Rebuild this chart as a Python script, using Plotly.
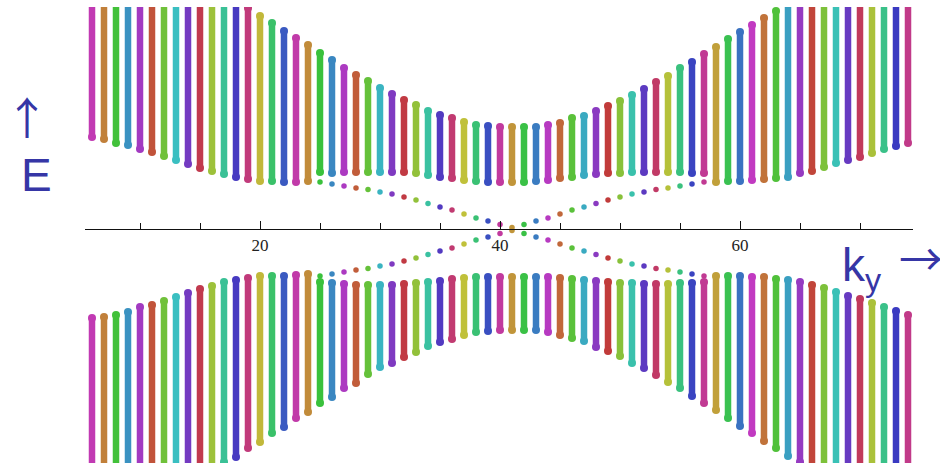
import colorsys
import plotly.graph_objects as go

# ---- band-structure data: one column of eigenvalues per ky index ----
ky = list(range(6, 75))

# bulk conduction band: lowest and highest eigenvalue at each ky
upper_min = [0.92, 0.90, 0.86, 0.84, 0.80, 0.77, 0.73, 0.69, 0.65, 0.61,
             0.58, 0.55, 0.52, 0.50, 0.48, 0.48, 0.47, 0.47, 0.48, 0.57,
             0.56, 0.57, 0.57, 0.57, 0.57, 0.57, 0.57, 0.56, 0.54, 0.52,
             0.51, 0.49, 0.48, 0.47, 0.47, 0.47, 0.47, 0.48, 0.49, 0.51,
             0.52, 0.54, 0.55, 0.56, 0.56, 0.57, 0.57, 0.57, 0.57, 0.57,
             0.56, 0.56, 0.47, 0.48, 0.48, 0.49, 0.50, 0.51, 0.52, 0.56,
             0.58, 0.62, 0.66, 0.69, 0.72, 0.76, 0.80, 0.83, 0.86]
upper_max = [2.5] * 12 + [
             2.28, 2.21, 2.13, 2.06, 1.98, 1.91, 1.84, 1.76, 1.69, 1.61,
             1.54, 1.48, 1.41, 1.35, 1.29, 1.24, 1.18, 1.14, 1.11, 1.07,
             1.04, 1.03, 1.02, 1.02, 1.02, 1.02, 1.04, 1.06, 1.11, 1.13,
             1.18, 1.23, 1.28, 1.34, 1.40, 1.47, 1.53, 1.61, 1.67, 1.75,
             1.82, 1.90, 1.97, 2.04, 2.11, 2.18, 2.25] + [2.5] * 10

# bulk valence band: highest and lowest eigenvalue at each ky
lower_max = [-0.89, -0.88, -0.86, -0.83, -0.78, -0.76, -0.72, -0.68, -0.64, -0.60,
             -0.57, -0.53, -0.51, -0.49, -0.47, -0.47, -0.47, -0.46, -0.45, -0.53,
             -0.54, -0.55, -0.56, -0.56, -0.56, -0.56, -0.55, -0.54, -0.53, -0.52,
             -0.50, -0.49, -0.48, -0.48, -0.48, -0.48, -0.48, -0.48, -0.48, -0.49,
             -0.50, -0.51, -0.52, -0.53, -0.54, -0.54, -0.55, -0.55, -0.55, -0.54,
             -0.54, -0.53, -0.47, -0.47, -0.47, -0.48, -0.48, -0.50, -0.51, -0.53,
             -0.56, -0.59, -0.63, -0.67, -0.70, -0.74, -0.78, -0.82, -0.86]
lower_min = [-2.6] * 11 + [
             -2.33, -2.28, -2.19, -2.13, -2.04, -1.98, -1.89, -1.83, -1.74,
             -1.68, -1.59, -1.54, -1.45, -1.38, -1.34, -1.28, -1.23, -1.17, -1.13,
             -1.10, -1.06, -1.03, -1.02, -1.01, -1.01, -1.01, -1.01, -1.03, -1.06,
             -1.09, -1.12, -1.18, -1.22, -1.27, -1.34, -1.39, -1.46, -1.53, -1.59,
             -1.67, -1.74, -1.81, -1.89, -1.97, -2.04, -2.12, -2.19, -2.27, -2.33] + [-2.6] * 9

# in-gap edge states (two branches at +E and -E, crossing at ky = 41)
edge_ky = list(range(25, 58))
edge_energy = [0.47, 0.45, 0.43, 0.41, 0.395, 0.37, 0.35, 0.32, 0.29, 0.255,
               0.22, 0.19, 0.15, 0.11, 0.08, 0.045, 0.015,
               0.045, 0.08, 0.11, 0.15, 0.19, 0.22, 0.255, 0.29, 0.32,
               0.35, 0.37, 0.395, 0.41, 0.43, 0.45, 0.47]

tick_step_major = 20
tick_step_minor = 5

# ---- geometry of the canvas ----
W, H = 940, 466
M_TOP, M_BOT = 7, 3
E_RANGE = [-2.34, 2.22]
PX_PER_K = 12.0
K_AT_500 = 40.0
AXIS_LEFT_PX, AXIS_RIGHT_PX = 85, 913


def k_at(px):
    return K_AT_500 + (px - 500) / PX_PER_K


def ky_color(k):
    hue = (0.67 + 0.2360679775 * (k - 1)) % 1.0
    r, g, b = colorsys.hsv_to_rgb(hue, 0.70, 0.76)
    return f"rgb({int(r * 255)},{int(g * 255)},{int(b * 255)})"


fig = go.Figure()

for i, k in enumerate(ky):
    c = ky_color(k)
    fig.add_trace(go.Scatter(
        x=[k, k, None, k, k],
        y=[upper_min[i], upper_max[i], None, lower_max[i], lower_min[i]],
        mode="lines+markers",
        line=dict(color=c, width=6.5),
        marker=dict(color=c, size=8, line=dict(width=0)),
        hoverinfo="skip", showlegend=False,
    ))

# the edge-state dots live on the (narrower) ky axis that carries the ticks;
# both horizontal axes use the same pixels-per-ky scale
edge_colors = [ky_color(k) for k in edge_ky]
fig.add_trace(go.Scatter(
    x=edge_ky + edge_ky,
    y=edge_energy + [-e for e in edge_energy],
    mode="markers",
    marker=dict(color=edge_colors + edge_colors, size=5.5, line=dict(width=0)),
    xaxis="x2", yaxis="y",
    hoverinfo="skip", showlegend=False,
))

axis_pos = (0 - E_RANGE[0]) / (E_RANGE[1] - E_RANGE[0])
label_color = "#3636A6"


def py_to_paper(py):
    return (H - M_BOT - py) / (H - M_TOP - M_BOT)


fig.update_layout(
    width=W, height=H,
    margin=dict(l=0, r=0, t=M_TOP, b=M_BOT, pad=0),
    paper_bgcolor="white", plot_bgcolor="rgba(0,0,0,0)",
    xaxis=dict(range=[k_at(0), k_at(W)], domain=[0, 1], visible=False,
               showgrid=False, zeroline=False),
    xaxis2=dict(range=[k_at(AXIS_LEFT_PX), k_at(AXIS_RIGHT_PX)],
                domain=[AXIS_LEFT_PX / W, AXIS_RIGHT_PX / W],
                anchor="free", position=axis_pos, side="bottom",
                showline=True, linecolor="#111", linewidth=1.4,
                showgrid=False, zeroline=False,
                tick0=0, dtick=tick_step_major, ticks="inside", ticklen=8,
                tickwidth=1.3, tickcolor="#111",
                minor=dict(tick0=0, dtick=tick_step_minor, ticks="inside",
                           ticklen=6, tickwidth=1.1, tickcolor="#111",
                           showgrid=False),
                tickfont=dict(family="Liberation Serif", size=17, color="#222"),
                ticklabelstandoff=0),
    yaxis=dict(range=E_RANGE, visible=False, showgrid=False, zeroline=False),
    annotations=[
        dict(text="↑", x=27 / W, y=py_to_paper(116), xref="paper", yref="paper",
             showarrow=False, xanchor="center", yanchor="middle",
             font=dict(family="Noto Sans CJK SC", size=44, color=label_color)),
        dict(text="E", x=36 / W, y=py_to_paper(175), xref="paper", yref="paper",
             showarrow=False, xanchor="center", yanchor="middle",
             font=dict(family="Liberation Sans", size=46, color=label_color)),
        dict(text="k<sub>y</sub>", x=862 / W, y=py_to_paper(268), xref="paper",
             yref="paper", showarrow=False, xanchor="center", yanchor="middle",
             font=dict(family="Liberation Sans", size=46, color=label_color)),
        dict(text="→", x=921 / W, y=py_to_paper(257), xref="paper", yref="paper",
             showarrow=False, xanchor="center", yanchor="middle",
             font=dict(family="Noto Sans CJK SC", size=44, color=label_color)),
    ],
)

fig.write_html("out.html")
